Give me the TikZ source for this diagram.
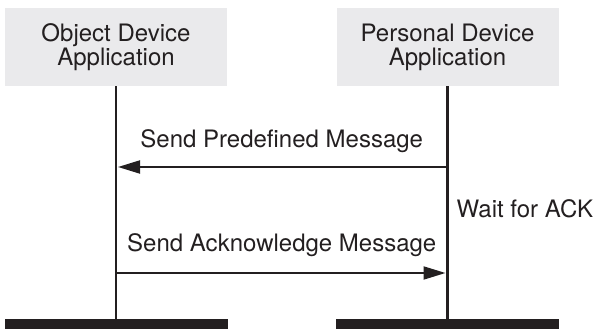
\documentclass[tikz,border=0pt]{standalone}
\usepackage{fontspec}
\setmainfont{TeX Gyre Heros}
\usetikzlibrary{arrows.meta}

\begin{document}
\begin{tikzpicture}[x=1pt,y=1pt]

% ---------- colors ----------
\definecolor{boxcol}{HTML}{EAEAEC}
\definecolor{inkcol}{HTML}{231F20}

% ---------- dimensions ----------
\def\xL{116}
\def\xR{447.5}
\def\yA{162}
\def\yB{56}

% ---------- styles ----------
\tikzset{
  appbox/.style={fill=boxcol, draw=none, minimum width=222pt,
    minimum height=78pt, inner sep=0pt, align=center, text=inkcol,
    font=\fontsize{24}{24}\selectfont},
  endbar/.style={fill=inkcol, draw=none, minimum width=223pt,
    minimum height=10pt, inner sep=0pt},
  lifeline/.style={draw=inkcol, line width=2.5pt},
  msg/.style={draw=inkcol, line width=2pt, shorten >=2pt,
    -{Triangle[length=22pt, width=13pt]}},
  msgtext/.style={anchor=base, inner sep=0pt, text=inkcol,
    font=\fontsize{24}{24}\selectfont}
}

\useasboundingbox (0,0) rectangle (597,329);

% ---------- applications ----------
\node[appbox] (oda) at (\xL,282) {Object Device\\Application};
\node[appbox] (pda) at (\xR,282) {Personal Device\\Application};

% ---------- end bars ----------
\node[endbar] (odabar) at (\xL,5) {};
\node[endbar] (pdabar) at (\xR,5) {};

% ---------- lifelines ----------
\draw[lifeline] (oda.south) -- (odabar.north);
\draw[lifeline] (pda.south) -- (pdabar.north);

% ---------- messages ----------
\coordinate (odaA) at (oda.south |- 0,\yA);
\coordinate (pdaA) at (pda.south |- 0,\yA);
\coordinate (odaB) at (oda.south |- 0,\yB);
\coordinate (pdaB) at (pda.south |- 0,\yB);

\draw[msg] (pdaA) -- (odaA);
\node[msgtext] (sendpre) at ({(\xL+\xR)/2},181) {Send Predefined Message};

\draw[msg] (odaB) -- (pdaB);
\node[msgtext] (sendack) at ({(\xL+\xR)/2},77) {Send Acknowledge Message};

\node[msgtext, anchor=base west] (waitack) at ({\xR+9},111) {Wait for ACK};

\end{tikzpicture}
\end{document}
